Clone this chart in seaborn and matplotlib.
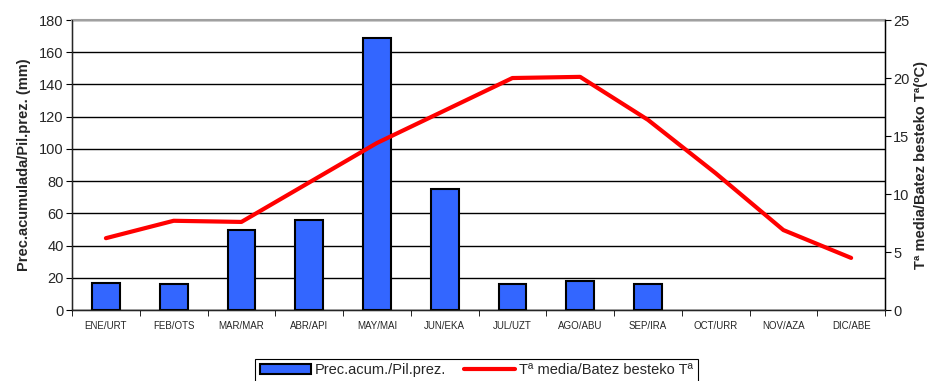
import numpy as np
import pandas as pd
import seaborn as sns
import matplotlib.pyplot as plt
from matplotlib.ticker import MultipleLocator, FixedLocator

months = ['ENE/URT', 'FEB/OTS', 'MAR/MAR', 'ABR/API', 'MAY/MAI', 'JUN/EKA',
          'JUL/UZT', 'AGO/ABU', 'SEP/IRA', 'OCT/URR', 'NOV/AZA', 'DIC/ABE']
precip = [17, 16, 50, 56, 169, 75, 16, 18, 16, 0, 0, 0]
temp = [6.2, 7.7, 7.6, 11.0, 14.4, 17.2, 20.0, 20.1, 16.4, 11.8, 6.9, 4.5]

if __name__ == '__main__':
    sns.set_style('white')
    plt.rcParams['font.family'] = ['Liberation Sans', 'DejaVu Sans']

    df = pd.DataFrame({'month': months, 'precip': precip, 'temp': temp,
                       'pos': np.arange(len(months))})

    fig = plt.figure(figsize=(9.38, 3.81), dpi=100)
    ax = fig.add_axes([0.0768, 0.186, 0.9435 - 0.0768, 0.9475 - 0.186])

    sns.barplot(df, x='month', y='precip', color='#3366FF', saturation=1, width=0.41,
                edgecolor='black', linewidth=1.5, ax=ax, zorder=3)
    # empty months: no visible bar outline
    for p in ax.patches:
        if p.get_height() == 0:
            p.set_visible(False)
    ax.set(xlim=(-0.5, 11.5), ylim=(0, 180), xlabel='',
           ylabel='Prec.acumulada/Pil.prez. (mm)')
    ax.yaxis.set_major_locator(MultipleLocator(20))
    ax.yaxis.grid(True, color='black', linewidth=1)
    ax.set_axisbelow(True)
    ax.xaxis.set_minor_locator(FixedLocator(np.arange(-0.5, 12, 1)))
    ax.tick_params(axis='x', which='major', length=0, labelsize=7, pad=8)
    ax.tick_params(axis='x', which='minor', length=4, color='black', bottom=True)
    ax.tick_params(axis='y', length=4, color='black', left=True, labelsize=10.5, pad=2)
    ax.yaxis.label.set(fontsize=10.5, fontweight='bold')
    ax.yaxis.labelpad = 6
    for s in ['left', 'bottom']:
        ax.spines[s].set_color('black')
        ax.spines[s].set_linewidth(1)
    ax.spines['top'].set_color('#A0A0A0')
    ax.spines['top'].set_linewidth(1.5)
    ax.spines['right'].set_color('black')

    ax2 = ax.twinx()
    sns.lineplot(df, x='pos', y='temp', color='#FF0000', linewidth=3, ax=ax2, zorder=4)
    ax2.set(ylim=(0, 25), xlim=(-0.5, 11.5), ylabel='Tª media/Batez besteko Tª(ºC)')
    ax2.yaxis.set_major_locator(MultipleLocator(5))
    ax2.tick_params(axis='y', length=4, color='black', right=True, labelsize=10.5, pad=2)
    ax2.yaxis.label.set(fontsize=10.5, fontweight='bold')
    ax2.yaxis.labelpad = 3
    ax2.spines['right'].set_color('black')
    ax2.spines['right'].set_linewidth(1)
    ax2.spines['top'].set_visible(False)
    ax2.grid(False)

    handles = [plt.Rectangle((0, 0), 1, 1, facecolor='#3366FF', edgecolor='black', linewidth=1.5),
               plt.Line2D([0], [0], color='#FF0000', linewidth=3)]
    leg = fig.legend(handles, ['Prec.acum./Pil.prez.', 'Tª media/Batez besteko Tª'],
                     loc='upper center', bbox_to_anchor=(0.508, 0.077), ncol=2,
                     fancybox=False, edgecolor='black', fontsize=10.5, frameon=True,
                     handlelength=3.5, handletextpad=0.3, columnspacing=1.2,
                     borderpad=0.3, framealpha=1)
    leg.get_frame().set_linewidth(0.8)

    fig.savefig('out.png', dpi=100)
